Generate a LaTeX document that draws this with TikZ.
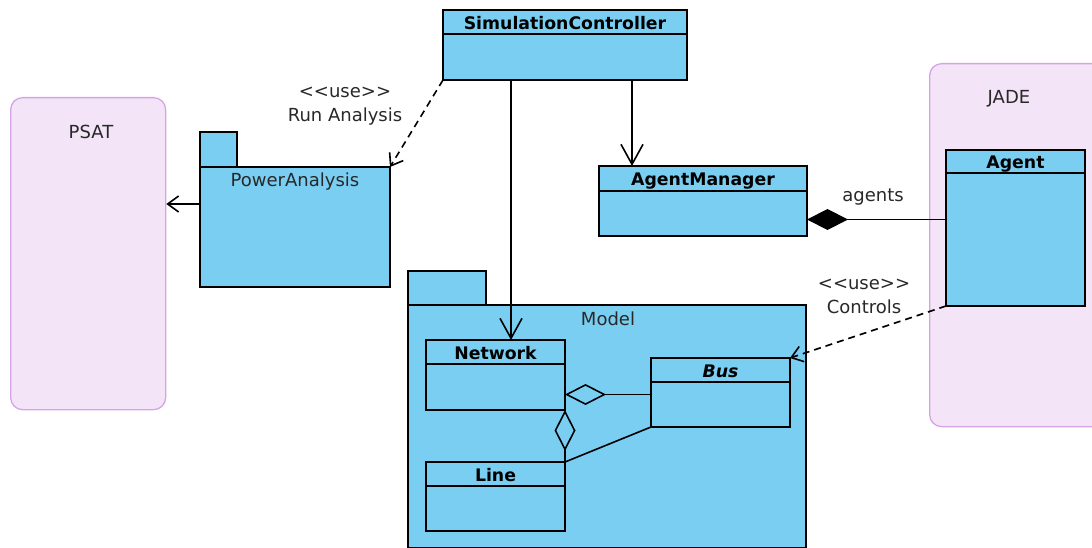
\documentclass[tikz,border=0pt]{standalone}
\usepackage{fontspec}
\setmainfont{DejaVu Sans}
\usetikzlibrary{positioning,arrows.meta}

\definecolor{clsblue}{RGB}{122,206,242}
\definecolor{pkgfill}{RGB}{243,229,247}
\definecolor{pkgline}{RGB}{214,162,232}
\definecolor{txtgray}{RGB}{40,40,40}

\begin{document}
\begin{tikzpicture}[x=1pt, y=-1pt, line width=1.6pt, font=\fontsize{17}{24}\selectfont,
    cls/.style={draw, fill=clsblue, inner sep=0pt, outer sep=0pt},
    hdr/.style={cls, anchor=north west, minimum height=24pt, text height=15pt, text depth=0pt, font=\fontsize{17.3}{24}\selectfont\bfseries},
    tool/.style={draw=pkgline, fill=pkgfill, rounded corners=12pt, anchor=north west, line width=1.3pt},
    bigopen/.style={-{Straight Barb[length=20pt,width=22pt]}},
    smallopen/.style={-{Straight Barb[length=11pt,width=16pt]}},
    uses/.style={smallopen, dash pattern=on 7pt off 5pt},
    lbl/.style={text=txtgray, align=center, font=\fontsize{18}{24}\selectfont}]
  \useasboundingbox (0,0) rectangle (1092,548);

  % external tools
  \node (psat) [tool, minimum width=155pt, minimum height=312pt] at (10,97) {};
  \node (jade) [tool, minimum width=190pt, minimum height=363pt] at (929,63) {};
  \node [lbl, anchor=base] at (91,139) {PSAT};
  \node [lbl, anchor=base] at (1009,104) {JADE};

  % packages
  \node (patab) [cls, anchor=north west, minimum width=37pt, minimum height=35pt] at (200,132) {};
  \node (pa) [cls, anchor=north west, minimum width=190pt, minimum height=120pt] at (200,167) {};
  \node [lbl, anchor=base] at (295,187) {PowerAnalysis};
  \node (modtab) [cls, anchor=north west, minimum width=78pt, minimum height=34pt] at (408,271) {};
  \node (model) [cls, anchor=north west, minimum width=398pt, minimum height=243pt] at (408,305) {};
  \node [lbl, anchor=base] at (608,325) {Model};

  % classes
  \node (simh) [hdr, minimum width=244pt] at (443,10) {SimulationController};
  \node (sim) [cls, minimum width=244pt, minimum height=46pt, below=0pt of simh] {};
  \node (amh) [hdr, minimum width=208pt, minimum height=25pt] at (599,166) {AgentManager};
  \node (am) [cls, minimum width=208pt, minimum height=45pt, below=0pt of amh] {};
  \node (agh) [hdr, minimum width=139pt, minimum height=23pt] at (946,150) {Agent};
  \node (ag) [cls, minimum width=139pt, minimum height=133pt, below=0pt of agh] {};
  \node (neth) [hdr, minimum width=139pt] at (426,340) {Network};
  \node (net) [cls, minimum width=139pt, minimum height=46pt, below=0pt of neth] {};
  \node (bush) [hdr, minimum width=139pt, font=\fontsize{17.3}{24}\selectfont\bfseries\itshape] at (651,358) {Bus};
  \node (bus) [cls, minimum width=139pt, minimum height=45pt, below=0pt of bush] {};
  \node (lineh) [hdr, minimum width=139pt] at (426,462) {Line};
  \node (line) [cls, minimum width=139pt, minimum height=45pt, below=0pt of lineh] {};

  % relations
  \draw[bigopen] ([xshift=-54pt]sim.south) -- ([xshift=-54pt]sim.south |- neth.north);
  \draw[bigopen] ([xshift=67pt]sim.south) -- ([xshift=67pt]sim.south |- amh.north);
  \draw[uses] (sim.south west) -- (pa.north east);
  \node [lbl] at (345,106) {<\kern0pt<use>\kern0pt>\\Run Analysis};
  \draw[smallopen] ([yshift=23pt]pa.west) -- ([yshift=23pt]pa.west -| psat.east);
  \draw[{Diamond[length=41pt,width=21pt]}-] ([yshift=-6pt]am.east) -- ([yshift=-6pt]am.east -| ag.west);
  \node [lbl, anchor=base] at (873,202) {agents};
  \draw[uses] (ag.south west) -- (bush.north east);
  \node [lbl] at (864,296) {<\kern0pt<use>\kern0pt>\\Controls};
  \draw[{Diamond[open,length=41pt,width=21pt]}-] ([yshift=10pt]bus.west -| net.east) -- ([yshift=10pt]bus.west);
  \draw[{Diamond[open,length=41pt,width=21pt]}-] (net.south east) -- (lineh.north east);
  \draw (bus.south west) -- (lineh.north east);
\end{tikzpicture}
\end{document}
